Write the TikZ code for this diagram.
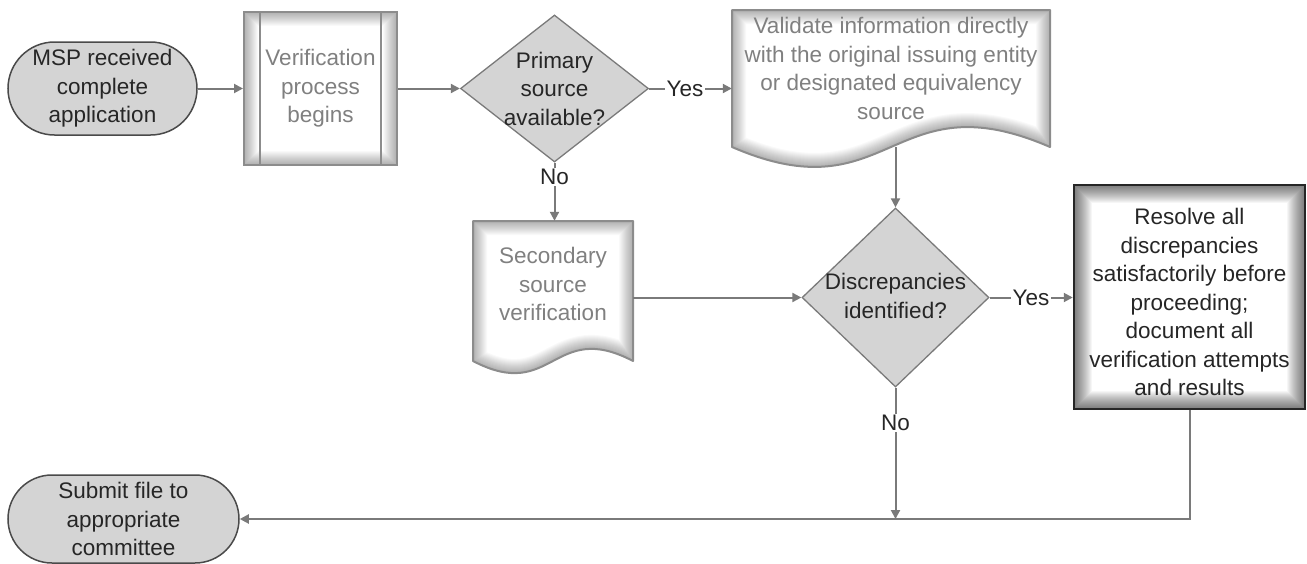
\documentclass[tikz,border=0pt]{standalone}
\usepackage{fontspec}
\setmainfont{Liberation Sans}
\usetikzlibrary{shapes.geometric,arrows.meta}
\definecolor{linec}{HTML}{7A7A7A}
\definecolor{darktxt}{HTML}{262626}
\definecolor{graytxt}{HTML}{808080}
\definecolor{shapefill}{HTML}{D4D4D4}
\definecolor{termline}{HTML}{4A4A4A}
\definecolor{boxline}{HTML}{8C8C8C}
\newcommand\mydocpath[5]{(#1,#2) -- (#3,#2) -- (#3,#4) .. controls ({(#1+#3)/2},{#4-#5}) and ({(#1+#3)/2},{#4+#5}) .. (#1,#4) -- cycle}
\begin{document}
\begin{tikzpicture}[x=1pt,y=-1pt,
  every node/.style={font=\fontsize{22.5}{28.5}\selectfont, align=center, inner sep=0pt},
  term/.style={draw=termline, line width=1.5pt, fill=shapefill, text=darktxt},
  dia/.style={diamond, draw=linec, line width=1.3pt, fill=shapefill},
  dtext/.style={text=darktxt},
  gtext/.style={text=graytxt},
  glow/.style={path picture={
     \foreach \i in {1,...,14}{
       \draw[line width=2*\i pt, black, opacity=0.022] (path picture bounding box.south west) rectangle (path picture bounding box.north east);}}},
  procglow/.style={path picture={
     \foreach \i in {1,...,14}{
       \draw[line width=2*\i pt, black, opacity=0.022] (path picture bounding box.south west) rectangle (path picture bounding box.north east);}
     \draw[boxline, line width=1.5pt] ([xshift=16pt]path picture bounding box.south west) -- ([xshift=16pt]path picture bounding box.north west);
     \draw[boxline, line width=1.5pt] ([xshift=-16pt]path picture bounding box.south east) -- ([xshift=-16pt]path picture bounding box.north east);}},
  darkglow/.style={path picture={
     \foreach \i in {1,...,18}{
       \draw[line width=2*\i pt, black, opacity=0.034] (path picture bounding box.south west) rectangle (path picture bounding box.north east);}}},
  arr/.style={draw=linec, line width=2pt, -{Triangle[length=9pt,width=9pt]}},
  lab/.style={fill=white, text=darktxt, inner sep=1.5pt}
]
\useasboundingbox (0,0) rectangle (1307,563);

% start terminal
\node[term, rounded corners=46.5pt, minimum width=189pt, minimum height=93pt] (start) at (102.5,88.5) {MSP received\\complete\\application};

% predefined process
\node[draw=boxline, line width=2pt, fill=white, procglow, minimum width=153pt, minimum height=153pt] (proc) at (320.5,88.5) {};
\node[gtext] (proct) at (proc) {Verification\\process\\begins};

% decision 1
\node[dia, minimum width=188pt, minimum height=147pt] (d1) at (554.5,88.5) {};
\node[dtext] (d1t) at (554.5,88.5) {Primary\\source\\available?};

% document 1
\node[minimum width=318pt, minimum height=137pt] (doc1) at (891,78.5) {};
\fill[white] \mydocpath{732}{10}{1050}{147}{69};
\begin{scope}
\clip \mydocpath{732}{10}{1050}{147}{69};
\foreach \i in {1,...,14}{
  \draw[line width=2*\i pt, black, opacity=0.022] \mydocpath{732}{10}{1050}{147}{69};}
\end{scope}
\draw[boxline, line width=2pt, line join=round] \mydocpath{732}{10}{1050}{147}{69};
\node[gtext] (doc1t) at (891,68.5) {Validate information directly\\with the original issuing entity\\or designated equivalency\\source};

% document 2
\node[minimum width=160pt, minimum height=140pt] (doc2) at (553,291) {};
\fill[white] \mydocpath{473}{221}{633}{361}{42};
\begin{scope}
\clip \mydocpath{473}{221}{633}{361}{42};
\foreach \i in {1,...,14}{
  \draw[line width=2*\i pt, black, opacity=0.022] \mydocpath{473}{221}{633}{361}{42};}
\end{scope}
\draw[boxline, line width=2pt, line join=round] \mydocpath{473}{221}{633}{361}{42};
\node[gtext] (doc2t) at (553,284) {Secondary\\source\\verification};

% decision 2
\node[dia, minimum width=187pt, minimum height=179pt] (d2) at (895.5,297.5) {};
\node[dtext] (d2t) at (895.5,296) {Discrepancies\\identified?};

% resolve box
\node[draw=darktxt, line width=2.5pt, fill=white, darkglow, minimum width=231pt, minimum height=224pt] (res) at (1189.5,297) {};
\node[dtext] (rest) at (1189.5,302) {Resolve all\\discrepancies\\satisfactorily before\\proceeding;\\document all\\verification attempts\\and results};

% submit terminal
\node[term, rounded corners=44pt, minimum width=231pt, minimum height=88pt] (sub) at (123.5,519) {Submit file to\\appropriate\\committee};

% connectors
\draw[arr] (start.east) -- (proc.west);
\draw[arr] (proc.east) -- (d1.west);
\draw[arr] (d1.east) -- (d1.east -| doc1.west);
\node[lab] (y1) at (685,88.5) {Yes};
\draw[arr] (d1.south) -- (d1.south |- doc2.north);
\node[lab] (n1) at (554.5,177) {No};
\draw[arr] (d2.north |- doc1.south) -- (d2.north);
\draw[arr] (doc2.east |- d2.west) -- (d2.west);
\draw[arr] (d2.east) -- (d2.east -| res.west);
\node[lab] (y2) at (1031,297.5) {Yes};
\draw[arr] (res.south) |- (sub.east);
\draw[arr] (d2.south) -- (d2.south |- sub.east);
\node[lab] (n2) at (895.5,423) {No};
\end{tikzpicture}
\end{document}
